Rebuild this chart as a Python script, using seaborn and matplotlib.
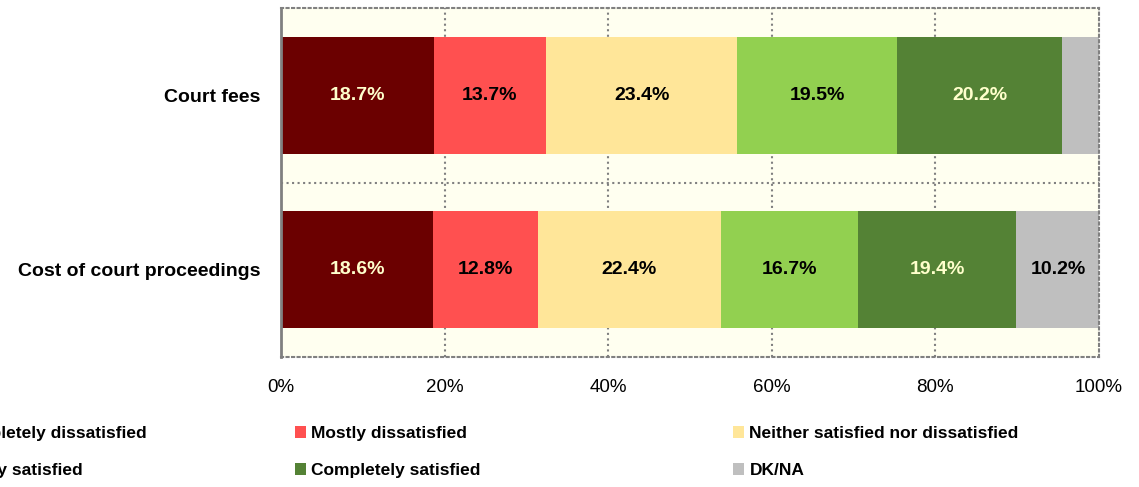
import matplotlib
matplotlib.use("Agg")
import matplotlib.pyplot as plt
from matplotlib.patches import Patch
import numpy as np
import pandas as pd
import seaborn as sns

sns.set_style("white")
plt.rcParams["font.family"] = ["Liberation Sans", "DejaVu Sans"]
plt.rcParams["text.color"] = "black"
plt.rcParams["xtick.labelcolor"] = "black"
plt.rcParams["ytick.labelcolor"] = "black"

# Survey data: satisfaction with costs of justice (%)
categories = ["Court fees", "Cost of court proceedings"]
segments = [
    "Completely dissatisfied",
    "Mostly dissatisfied",
    "Neither satisfied nor dissatisfied",
    "Mostly satisfied",
    "Completely satisfied",
    "DK/NA",
]
court_fees = [18.7, 13.7, 23.4, 19.5, 20.2, 4.5]
cost_of_proceedings = [18.6, 12.8, 22.4, 16.7, 19.4, 10.2]
x_ticks = [0, 20, 40, 60, 80, 100]
x_tick_labels = ["0%", "20%", "40%", "60%", "80%", "100%"]

colors = ["#6B0000", "#FF5050", "#FFE699", "#92D050", "#548235", "#BFBFBF"]
label_colors = ["#FFFFCC", "black", "black", "black", "#FFFFCC", "black"]

values = np.array([court_fees, cost_of_proceedings])
ends = np.cumsum(values, axis=1)

fig = plt.figure(figsize=(11.39, 4.87), dpi=100)
ax = fig.add_axes([281 / 1139, 1 - 357 / 487, 818 / 1139, 349 / 487])
ax.set_facecolor("#FFFFF0")

# stacked bars: draw cumulative totals from the last segment back to the first
for i in range(len(segments) - 1, -1, -1):
    df = pd.DataFrame({"category": categories, "end": ends[:, i]})
    sns.barplot(data=df, x="end", y="category", orient="h", color=colors[i],
                saturation=1, width=0.67, ax=ax, zorder=2, linewidth=0)

# value labels centred in each segment
for r in range(len(categories)):
    for i in range(len(segments)):
        v = values[r, i]
        if v < 5:
            continue
        ax.text(ends[r, i] - v / 2, r, f"{v:.1f}%", ha="center", va="center",
                fontsize=14, fontweight="bold", color=label_colors[i], zorder=3)

ax.set_xlim(0, 100)
ax.set_ylim(1.5, -0.5)
ax.set_xlabel("")
ax.set_ylabel("")
ax.set_xticks(x_ticks)
ax.set_xticklabels(x_tick_labels, fontsize=13.5)
ax.set_yticks([0, 1])
ax.set_yticklabels(categories, fontsize=14, fontweight="bold")
ax.set_yticks([-0.5, 0.5, 1.5], minor=True)

ax.tick_params(axis="y", which="major", length=0, pad=15)
ax.tick_params(axis="y", which="minor", length=8, width=2, color="#808080")
ax.tick_params(axis="x", which="major", length=5, width=1.2, color="#808080", pad=11)

ax.grid(False)
ax.set_axisbelow(True)
for xv in x_ticks[1:-1]:
    ax.axvline(xv, color="#808080", linestyle=":", linewidth=1.5, zorder=1)
ax.axhline(0.5, color="#808080", linestyle=":", linewidth=1.5, zorder=1)

for side in ["top", "right", "bottom"]:
    ax.spines[side].set_visible(True)
    ax.spines[side].set_color("#808080")
    ax.spines[side].set_linestyle(":")
    ax.spines[side].set_linewidth(1.5)
ax.spines["left"].set_color("#808080")
ax.spines["left"].set_linewidth(2)
ax.spines["left"].set_zorder(4)

# legend: three columns of two rows, laid out row by row
col_x = [-64, 295, 733]
legend_y = 1 - 452 / 487
for c in range(3):
    idxs = [c, c + 3]
    handles = [Patch(facecolor=colors[k], edgecolor="none") for k in idxs]
    fig.legend(handles, [segments[k] for k in idxs], loc="center left",
               bbox_to_anchor=(col_x[c] / 1139, legend_y), frameon=False,
               prop={"size": 12.5, "weight": "bold"}, handlelength=0.65,
               handleheight=0.7, handletextpad=0.3, labelspacing=1.3,
               borderpad=0, borderaxespad=0, labelcolor="black")

fig.savefig("out.png", dpi=100)
